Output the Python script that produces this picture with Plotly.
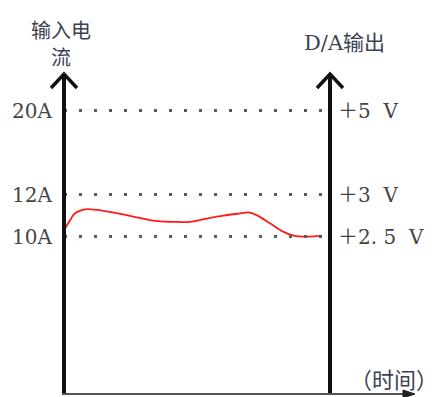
import plotly.graph_objects as go

# Red input-current trace over time (time in arbitrary units, current in A)
time = [0.0, 0.16, 0.41, 0.67, 0.91, 1.54, 2.17, 2.79, 3.42, 4.05, 4.74,
        5.36, 5.99, 6.62, 6.93, 7.24, 7.74, 8.24, 8.62, 9.12, 9.69]
current = [10.31, 10.63, 11.10, 11.26, 11.30, 11.21, 11.07, 10.90, 10.74, 10.70, 10.70,
           10.85, 10.99, 11.10, 11.15, 11.02, 10.63, 10.23, 10.04, 9.99, 10.04]

# Reference levels: current on the left, matching D/A output on the right.
# The 20A level sits above an axis break, so it is drawn at level 16.
level_current = ["20A", "12A", "10A"]
level_voltage = ["＋5\u00a0\u00a0V", "＋3\u00a0\u00a0V", "＋2.\u00a05\u00a0\u00a0V"]
level_pos = [16, 12, 10]

T_END = 10  # right-hand (D/A) axis position

W, H = 438, 397
X0, SX = 64, 26.6      # pixel x of t=0, pixels per time unit
Y10, SY = 236.5, 21    # pixel y of 10A, pixels per amp


def px_x(p):
    return (p - X0) / SX


def px_y(p):
    return 10 + (Y10 - p) / SY


TXT = "#444444"
LAT = "DejaVu Serif, Noto Sans CJK SC"
CJK = "Noto Sans CJK SC, DejaVu Serif"

fig = go.Figure()

fig.add_trace(go.Scatter(
    x=time, y=current, mode="lines",
    line=dict(color="#ff1a1a", width=1.8, shape="spline", smoothing=1.0),
    hoverinfo="skip", showlegend=False,
))

shapes = []
# dotted level lines between the two vertical axes
for y in level_pos:
    shapes.append(dict(type="line", xref="x", yref="y", x0=0, x1=T_END, y0=y, y1=y,
                       line=dict(color="#5a5a5a", width=3, dash="3px,12px")))

y_bot = px_y(394)
y_top = px_y(74)
y_arm = px_y(88)
# vertical axes with open arrowheads
for xa in (0, T_END):
    shapes.append(dict(type="line", xref="x", yref="y", x0=xa, x1=xa, y0=y_bot, y1=y_top,
                       line=dict(color="#111111", width=4)))
    xl = xa - 13 / SX
    xr = xa + 13 / SX
    shapes.append(dict(type="path", xref="x", yref="y",
                       path=f"M {xl},{y_arm} L {xa},{y_top} L {xr},{y_arm}",
                       line=dict(color="#111111", width=3.5)))

# time axis with a small filled arrowhead
shapes.append(dict(type="line", xref="x", yref="y", x0=px_x(62), x1=px_x(408), y0=y_bot, y1=y_bot,
                   line=dict(color="#555555", width=2)))
shapes.append(dict(type="path", xref="x", yref="y",
                   path=f"M {px_x(403)},{px_y(390)} L {px_x(415)},{y_bot} L {px_x(403)},{px_y(398)} Z",
                   fillcolor="#222222", line=dict(color="#222222", width=1)))

annotations = []
for lab, y in zip(level_current, level_pos):
    annotations.append(dict(x=px_x(54), y=y, xref="x", yref="y", text=lab, showarrow=False,
                            xanchor="right", yanchor="middle",
                            font=dict(family=LAT, size=20, color=TXT)))
for lab, y in zip(level_voltage, level_pos):
    annotations.append(dict(x=px_x(336), y=y, xref="x", yref="y", text=lab, showarrow=False,
                            xanchor="left", yanchor="middle",
                            font=dict(family=LAT, size=20, color=TXT)))

annotations += [
    dict(x=px_x(61), y=px_y(29), xref="x", yref="y", text="输入电", showarrow=False,
         xanchor="center", yanchor="middle", font=dict(family=CJK, size=20, color="#3c4250")),
    dict(x=px_x(61), y=px_y(56), xref="x", yref="y", text="流", showarrow=False,
         xanchor="center", yanchor="middle", font=dict(family=CJK, size=20, color="#3c4250")),
    dict(x=px_x(344), y=px_y(43), xref="x", yref="y", text="D/A输出", showarrow=False,
         xanchor="center", yanchor="middle", font=dict(family=LAT, size=21, color="#3c4250")),
    dict(x=px_x(394), y=px_y(378), xref="x", yref="y", text="（时间）", showarrow=False,
         xanchor="center", yanchor="middle", font=dict(family=CJK, size=22, color="#3c4250")),
]

fig.update_layout(
    width=W, height=H,
    margin=dict(l=0, r=0, t=0, b=0),
    paper_bgcolor="white", plot_bgcolor="white",
    xaxis=dict(range=[px_x(0), px_x(W)], visible=False, fixedrange=True),
    yaxis=dict(range=[px_y(H), px_y(0)], visible=False, fixedrange=True),
    shapes=shapes, annotations=annotations,
    showlegend=False,
)

fig.write_html("out.html")
